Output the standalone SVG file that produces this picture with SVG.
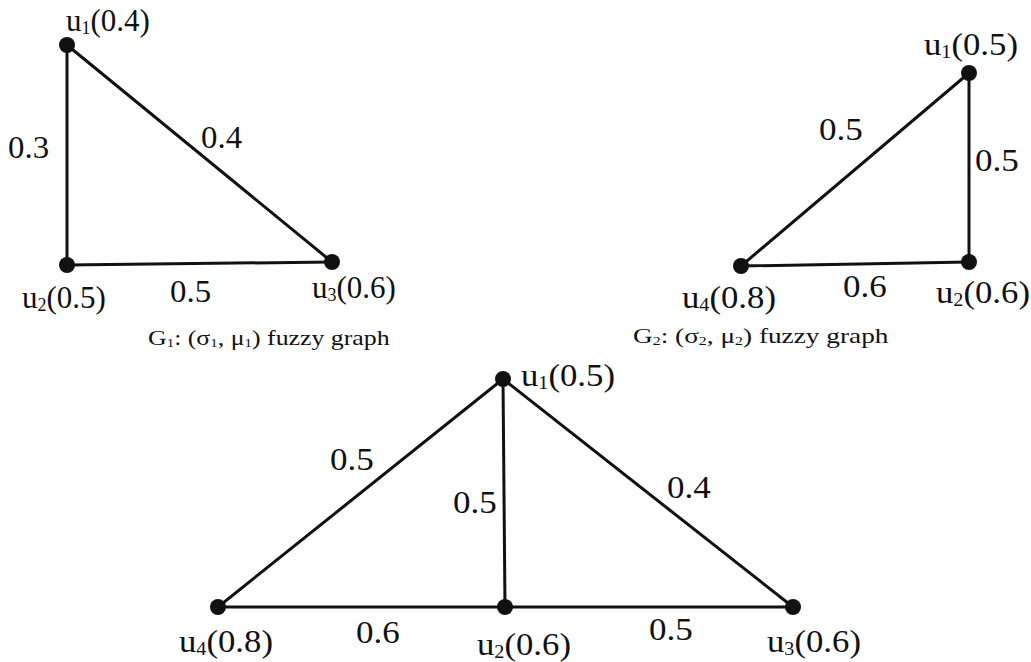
<svg xmlns="http://www.w3.org/2000/svg" width="1031" height="662" viewBox="0 0 1031 662">
<style>
.e{stroke:#111;stroke-width:3;fill:none;stroke-linecap:round}
.n{fill:#111}
.t{font-family:"Liberation Serif","Times New Roman",serif;font-size:31px;fill:#111}
.c{font-family:"Liberation Serif","Times New Roman",serif;font-size:21px;fill:#111}
.s{font-size:58%}
</style>
<rect width="1031" height="662" fill="#fff"/>
<g id="connectors">
  <line class="e" x1="67" y1="45" x2="67" y2="265"/>
  <line class="e" x1="67" y1="45" x2="332" y2="262"/>
  <line class="e" x1="67" y1="265" x2="332" y2="262"/>
  <line class="e" x1="969" y1="73" x2="969" y2="262"/>
  <line class="e" x1="969" y1="73" x2="741" y2="266"/>
  <line class="e" x1="741" y1="266" x2="969" y2="262"/>
  <line class="e" x1="503" y1="379" x2="505" y2="607"/>
  <line class="e" x1="503" y1="379" x2="218" y2="607"/>
  <line class="e" x1="503" y1="379" x2="793" y2="607"/>
  <line class="e" x1="218" y1="607" x2="793" y2="607"/>
</g>
<g id="edge-labels">
  <text class="t" transform="translate(8,158) scale(1.06,1)">0.3</text>
  <text class="t" transform="translate(201,148) scale(1.06,1)">0.4</text>
  <text class="t" transform="translate(170,302) scale(1.06,1)">0.5</text>
  <text class="t" transform="translate(819,140) scale(1.13,1)">0.5</text>
  <text class="t" transform="translate(975,171) scale(1.13,1)">0.5</text>
  <text class="t" transform="translate(843,297) scale(1.13,1)">0.6</text>
  <text class="t" transform="translate(330,470) scale(1.13,1)">0.5</text>
  <text class="t" transform="translate(453,513) scale(1.13,1)">0.5</text>
  <text class="t" transform="translate(667,498) scale(1.13,1)">0.4</text>
  <text class="t" transform="translate(356,643) scale(1.13,1)">0.6</text>
  <text class="t" transform="translate(649,640) scale(1.13,1)">0.5</text>
</g>
<g id="g1-u1"><circle class="n" cx="67" cy="45" r="8"/><text class="t" transform="translate(66,31) scale(1.0,1)">u<tspan class="s" dy="3">1</tspan><tspan dy="-3">(0.4)</tspan></text></g>
<g id="g1-u2"><circle class="n" cx="67" cy="265" r="8"/><text class="t" transform="translate(22,308) scale(1.0,1)">u<tspan class="s" dy="3">2</tspan><tspan dy="-3">(0.5)</tspan></text></g>
<g id="g1-u3"><circle class="n" cx="332" cy="262" r="8"/><text class="t" transform="translate(312,298) scale(1.0,1)">u<tspan class="s" dy="3">3</tspan><tspan dy="-3">(0.6)</tspan></text></g>
<g id="g2-u1"><circle class="n" cx="969" cy="73" r="8"/><text class="t" transform="translate(924,55) scale(1.12,1)">u<tspan class="s" dy="3">1</tspan><tspan dy="-3">(0.5)</tspan></text></g>
<g id="g2-u2"><circle class="n" cx="969" cy="262" r="8"/><text class="t" transform="translate(936,303) scale(1.12,1)">u<tspan class="s" dy="3">2</tspan><tspan dy="-3">(0.6)</tspan></text></g>
<g id="g2-u4"><circle class="n" cx="741" cy="266" r="8"/><text class="t" transform="translate(682,308) scale(1.12,1)">u<tspan class="s" dy="3">4</tspan><tspan dy="-3">(0.8)</tspan></text></g>
<g id="g3-u1"><circle class="n" cx="503" cy="379" r="8"/><text class="t" transform="translate(521,386) scale(1.12,1)">u<tspan class="s" dy="3">1</tspan><tspan dy="-3">(0.5)</tspan></text></g>
<g id="g3-u2"><circle class="n" cx="505" cy="607" r="8"/><text class="t" transform="translate(477,655) scale(1.12,1)">u<tspan class="s" dy="3">2</tspan><tspan dy="-3">(0.6)</tspan></text></g>
<g id="g3-u3"><circle class="n" cx="793" cy="607" r="8"/><text class="t" transform="translate(767,652) scale(1.12,1)">u<tspan class="s" dy="3">3</tspan><tspan dy="-3">(0.6)</tspan></text></g>
<g id="g3-u4"><circle class="n" cx="218" cy="607" r="8"/><text class="t" transform="translate(179,652) scale(1.12,1)">u<tspan class="s" dy="3">4</tspan><tspan dy="-3">(0.8)</tspan></text></g>
<g id="captions">
  <text class="c" transform="translate(148,345) scale(1.23,1)">G<tspan class="s" dy="2">1</tspan><tspan dy="-2">: (σ</tspan><tspan class="s" dy="2">1</tspan><tspan dy="-2">, μ</tspan><tspan class="s" dy="2">1</tspan><tspan dy="-2">) fuzzy graph</tspan></text>
  <text class="c" transform="translate(633,343) scale(1.3,1)">G<tspan class="s" dy="2">2</tspan><tspan dy="-2">: (σ</tspan><tspan class="s" dy="2">2</tspan><tspan dy="-2">, μ</tspan><tspan class="s" dy="2">2</tspan><tspan dy="-2">) fuzzy graph</tspan></text>
</g>
</svg>
